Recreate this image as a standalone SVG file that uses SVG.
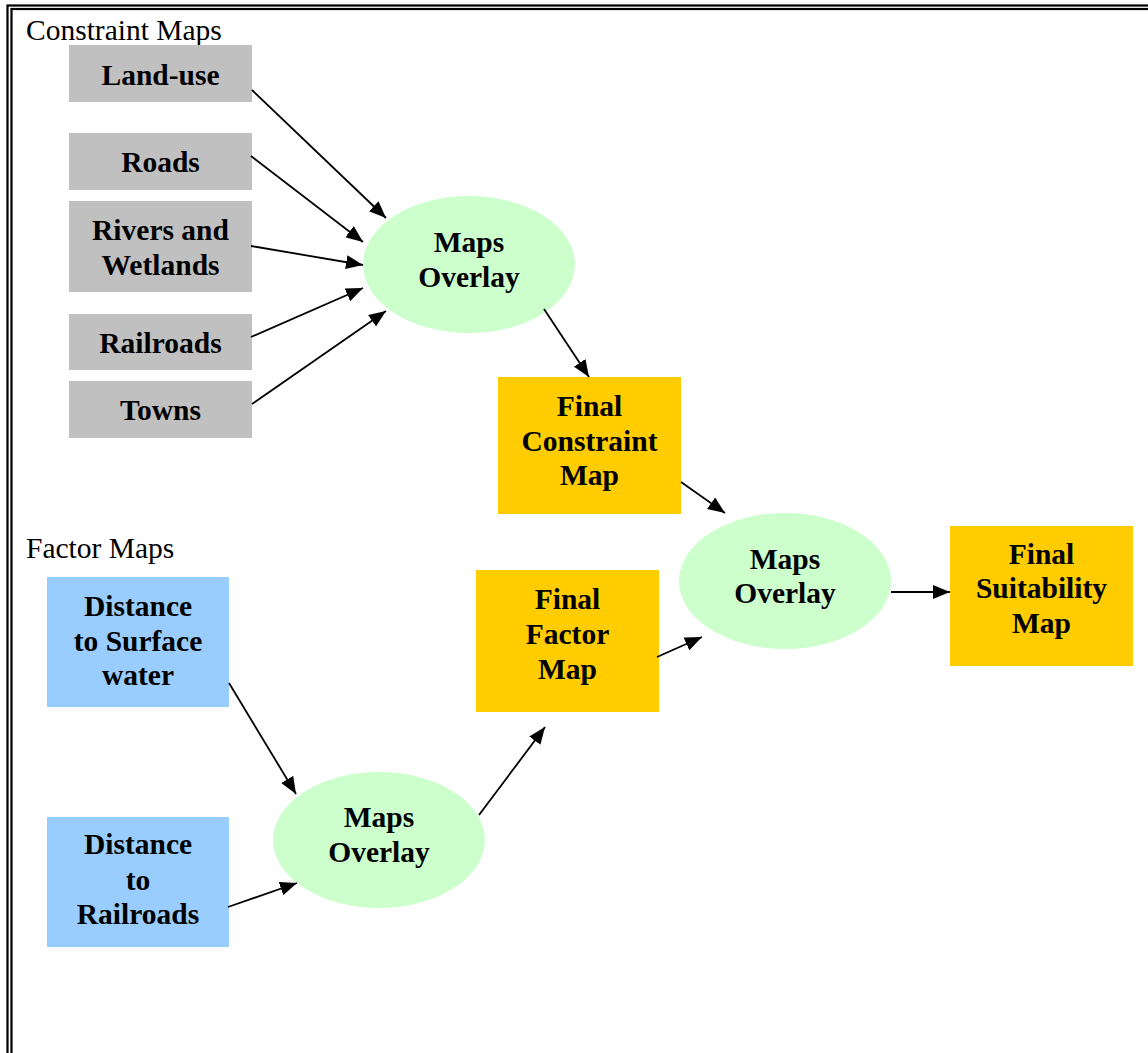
<svg xmlns="http://www.w3.org/2000/svg" width="1148" height="1053" viewBox="0 0 1148 1053">
<style>
.t{font-family:"Liberation Serif","Times New Roman",serif;font-weight:bold;font-size:29.5px;fill:#000;text-anchor:middle}
.h{font-family:"Liberation Serif","Times New Roman",serif;font-size:29.5px;fill:#000}
.g{fill:#C0C0C0}
.b{fill:#99CCFF}
.o{fill:#FFCC00}
.e{fill:#CCFFCC}
.c line{stroke:#000;stroke-width:1.8;marker-end:url(#ah)}
.fr{fill:none;stroke:#000;stroke-width:2.2}
</style>
<defs>
<marker id="ah" markerUnits="userSpaceOnUse" markerWidth="18" markerHeight="14" refX="17" refY="7" orient="auto">
<path d="M0,0 L17,7 L0,14 z" fill="#000"/>
</marker>
</defs>
<rect width="1148" height="1053" fill="#fff"/>
<g id="frame">
<rect class="fr" x="7.5" y="5.5" width="1160" height="1070"/>
<rect class="fr" x="11.5" y="9" width="1150" height="1060"/>
</g>
<text class="h" x="26" y="40">Constraint Maps</text>
<text class="h" x="26" y="558">Factor Maps</text>
<g id="landuse"><rect class="g" x="69" y="45" width="183" height="57"/><text class="t" x="160.5" y="85">Land-use</text></g>
<g id="roads"><rect class="g" x="69" y="133" width="183" height="57"/><text class="t" x="160.5" y="172">Roads</text></g>
<g id="rivers"><rect class="g" x="69" y="201" width="183" height="91"/><text class="t" x="160.5" y="240">Rivers and</text><text class="t" x="160.5" y="275">Wetlands</text></g>
<g id="railroads"><rect class="g" x="69" y="314" width="183" height="56"/><text class="t" x="160.5" y="353">Railroads</text></g>
<g id="towns"><rect class="g" x="69" y="381" width="183" height="57"/><text class="t" x="160.5" y="420">Towns</text></g>
<g id="overlay1"><ellipse class="e" cx="469" cy="264.5" rx="106" ry="68.5"/><text class="t" x="469" y="252">Maps</text><text class="t" x="469" y="287">Overlay</text></g>
<g id="finalconstraint"><rect class="o" x="498" y="377" width="183" height="137"/><text class="t" x="589.5" y="416">Final</text><text class="t" x="589.5" y="451">Constraint</text><text class="t" x="589.5" y="485">Map</text></g>
<g id="finalfactor"><rect class="o" x="476" y="570" width="183" height="142"/><text class="t" x="567.5" y="609">Final</text><text class="t" x="567.5" y="644">Factor</text><text class="t" x="567.5" y="679">Map</text></g>
<g id="overlay2"><ellipse class="e" cx="785" cy="581" rx="106" ry="68"/><text class="t" x="785" y="569">Maps</text><text class="t" x="785" y="603">Overlay</text></g>
<g id="finalsuitability"><rect class="o" x="950" y="526" width="183" height="140"/><text class="t" x="1041.5" y="564">Final</text><text class="t" x="1041.5" y="598">Suitability</text><text class="t" x="1041.5" y="633">Map</text></g>
<g id="distsurface"><rect class="b" x="47" y="577" width="182" height="130"/><text class="t" x="138" y="616">Distance</text><text class="t" x="138" y="651">to Surface</text><text class="t" x="138" y="685">water</text></g>
<g id="distrail"><rect class="b" x="47" y="817" width="182" height="130"/><text class="t" x="138" y="854">Distance</text><text class="t" x="138" y="890">to</text><text class="t" x="138" y="924">Railroads</text></g>
<g id="overlay3"><ellipse class="e" cx="379" cy="840" rx="106" ry="68"/><text class="t" x="379" y="827">Maps</text><text class="t" x="379" y="862">Overlay</text></g>
<g id="connectors" class="c">
<line x1="252" y1="90" x2="386" y2="218"/>
<line x1="251" y1="156" x2="363" y2="242"/>
<line x1="251" y1="246" x2="363" y2="265"/>
<line x1="251" y1="337" x2="363" y2="288"/>
<line x1="252" y1="404" x2="386" y2="311"/>
<line x1="544" y1="309" x2="589" y2="377"/>
<line x1="681" y1="482" x2="725" y2="513"/>
<line x1="657" y1="657" x2="702" y2="637"/>
<line x1="891" y1="592" x2="950" y2="592"/>
<line x1="229" y1="683" x2="296" y2="794"/>
<line x1="228" y1="907" x2="297" y2="883"/>
<line x1="479" y1="815" x2="545" y2="727"/>
</g>
</svg>
